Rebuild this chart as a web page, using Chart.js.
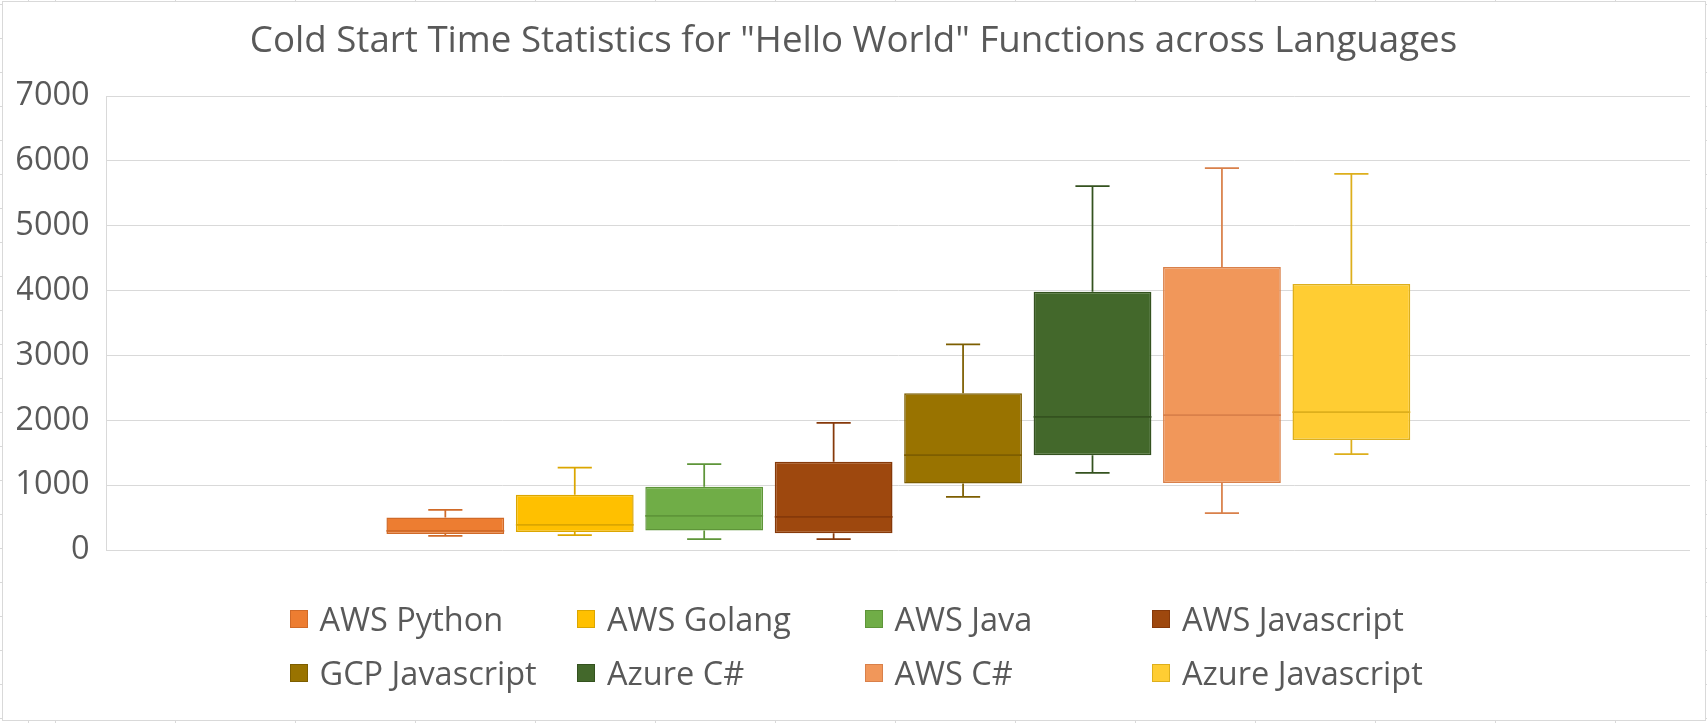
<!DOCTYPE html>
<html>
<head>
<meta charset="utf-8">
<script src="https://cdn.jsdelivr.net/npm/chart.js@4.4.1/dist/chart.umd.min.js"></script>
<style>
  html, body { margin: 0; padding: 0; background: #fff; }
  #wrap { position: relative; width: 1707px; height: 723px; overflow: hidden; }
  #frame { position: absolute; left: 2px; top: 1px; right: 1px; bottom: 2px; border: 1px solid #d9d9d9; }
  .tickL { position: absolute; left: 0; top: 0; width: 2px; height: 723px;
    background: repeating-linear-gradient(to bottom, #d9d9d9 0, #d9d9d9 1px, transparent 1px, transparent 34px); background-position: 0 4px; }
  .tickR { position: absolute; right: 0; top: 0; width: 1px; height: 723px;
    background: repeating-linear-gradient(to bottom, #d9d9d9 0, #d9d9d9 1px, transparent 1px, transparent 34px); background-position: 0 4px; }
  .tickT { position: absolute; left: 0; top: 0; width: 1707px; height: 1px;
    background: repeating-linear-gradient(to right, #d9d9d9 0, #d9d9d9 1px, transparent 1px, transparent 120px); background-position: 55px 0; }
  .tickB { position: absolute; left: 0; bottom: 0; width: 1707px; height: 2px;
    background: repeating-linear-gradient(to right, #d9d9d9 0, #d9d9d9 1px, transparent 1px, transparent 120px); background-position: 55px 0; }
  #chartBox { position: absolute; left: 0; top: 0; width: 1707px; height: 723px; }
  #legend { position: absolute; left: 0; top: 0; width: 1707px; height: 723px; pointer-events: none; }
  .item { position: absolute; display: flex; align-items: center; height: 36px; white-space: nowrap;
    font-family: 'Open Sans', sans-serif; font-size: 32.5px; line-height: 36px; color: #595959; }
  .sw { width: 16px; height: 16px; border: 1px solid; margin-right: 12px; flex: none; }
</style>
</head>
<body>
<div id="wrap">
  <div class="tickL"></div><div class="tickR"></div><div class="tickT"></div><div class="tickB"></div>
  <div id="frame"></div>
  <div id="chartBox"><canvas id="c"></canvas></div>
  <div id="legend"></div>
</div>
<script>
// ---- data ----
const chartTitle = 'Cold Start Time Statistics for "Hello World" Functions across Languages';
const seriesNames = ['AWS Python', 'AWS Golang', 'AWS Java', 'AWS Javascript', 'GCP Javascript', 'Azure C#', 'AWS C#', 'Azure Javascript'];
const minValues    = [216, 231, 166, 166, 818, 1189, 569, 1479];
const q1Values     = [246, 276, 299, 258, 1024, 1460, 1032, 1695];
const medianValues = [296, 387, 526, 509, 1462, 2052, 2080, 2126];
const q3Values     = [500, 853, 976, 1360, 2416, 3984, 4362, 4100];
const maxValues    = [619, 1269, 1325, 1961, 3172, 5611, 5888, 5798];
const yTicks       = [0, 1000, 2000, 3000, 4000, 5000, 6000, 7000];
const yTickLabels  = ['0', '1000', '2000', '3000', '4000', '5000', '6000', '7000'];

// ---- styles ----
const fillColors   = ['#ED7D31', '#FFC000', '#70AD47', '#9E480E', '#997300', '#43682B', '#F1975A', '#FFCD33'];
const strokeColors = ['#D06A28', '#DBA600', '#5E9539', '#86390A', '#7D5E00', '#34521F', '#D9804A', '#DDAF1C'];

const boxPlugin = {
  id: 'boxWhisker',
  afterDatasetsDraw(chart) {
    const ctx = chart.ctx;
    const ys = chart.scales.y;
    chart.data.datasets.forEach((ds, i) => {
      const meta = chart.getDatasetMeta(i);
      if (meta.hidden) return;
      const bar = meta.data[0];
      const x = bar.x, w = bar.width;
      const cap = w * 0.29;
      const pMin = ys.getPixelForValue(minValues[i]);
      const pQ1 = ys.getPixelForValue(q1Values[i]);
      const pMed = ys.getPixelForValue(medianValues[i]);
      const pQ3 = ys.getPixelForValue(q3Values[i]);
      const pMax = ys.getPixelForValue(maxValues[i]);
      ctx.save();
      ctx.strokeStyle = strokeColors[i];
      ctx.lineWidth = 1.75;
      ctx.beginPath();
      ctx.moveTo(x, pQ3); ctx.lineTo(x, pMax);
      ctx.moveTo(x - cap / 2, pMax); ctx.lineTo(x + cap / 2, pMax);
      ctx.moveTo(x, pQ1); ctx.lineTo(x, pMin);
      ctx.moveTo(x - cap / 2, pMin); ctx.lineTo(x + cap / 2, pMin);
      ctx.moveTo(x - w / 2, pMed); ctx.lineTo(x + w / 2, pMed);
      ctx.stroke();
      ctx.restore();
    });
  }
};

const datasets = seriesNames.map((name, i) => ({
  label: name,
  data: [[q1Values[i], q3Values[i]]],
  backgroundColor: fillColors[i],
  borderColor: strokeColors[i],
  borderWidth: 1.5,
  borderSkipped: false,
  categoryPercentage: 0.654,
  barPercentage: 0.91
}));

new Chart(document.getElementById('c'), {
  type: 'bar',
  data: { labels: [''], datasets },
  plugins: [boxPlugin],
  options: {
    responsive: true,
    maintainAspectRatio: false,
    animation: false,
    layout: { padding: { left: 17, right: 17, top: 0, bottom: 173 } },
    plugins: {
      legend: { display: false },
      tooltip: { enabled: false },
      title: {
        display: true,
        text: chartTitle,
        color: '#595959',
        font: { family: "'Open Sans', sans-serif", size: 36.7, weight: 'normal' },
        padding: { top: 19.5, bottom: 32.5 }
      }
    },
    scales: {
      x: { display: false },
      y: {
        min: yTicks[0],
        max: yTicks[yTicks.length - 1],
        afterBuildTicks(scale) { scale.ticks = yTicks.map(v => ({ value: v })); },
        afterFit(scale) { scale.width = 89.7; },
        ticks: {
          color: '#595959',
          padding: 17,
          font: { family: "'Open Sans', sans-serif", size: 32.5 },
          callback: (v, idx) => yTickLabels[idx]
        },
        grid: { color: '#d9d9d9', lineWidth: 1, drawTicks: false },
        border: { display: true, color: '#d9d9d9', width: 1 }
      }
    }
  }
});

// ---- legend (HTML text) ----
const legend = document.getElementById('legend');
seriesNames.forEach((name, i) => {
  const it = document.createElement('div');
  it.className = 'item';
  it.style.left = (289.5 + (i % 4) * 287.5) + 'px';
  it.style.top = (601 + Math.floor(i / 4) * 54) + 'px';
  const sw = document.createElement('span');
  sw.className = 'sw';
  sw.style.background = fillColors[i];
  sw.style.borderColor = strokeColors[i];
  const tx = document.createElement('span');
  tx.textContent = name;
  it.appendChild(sw); it.appendChild(tx);
  legend.appendChild(it);
});
</script>
</body>
</html>
